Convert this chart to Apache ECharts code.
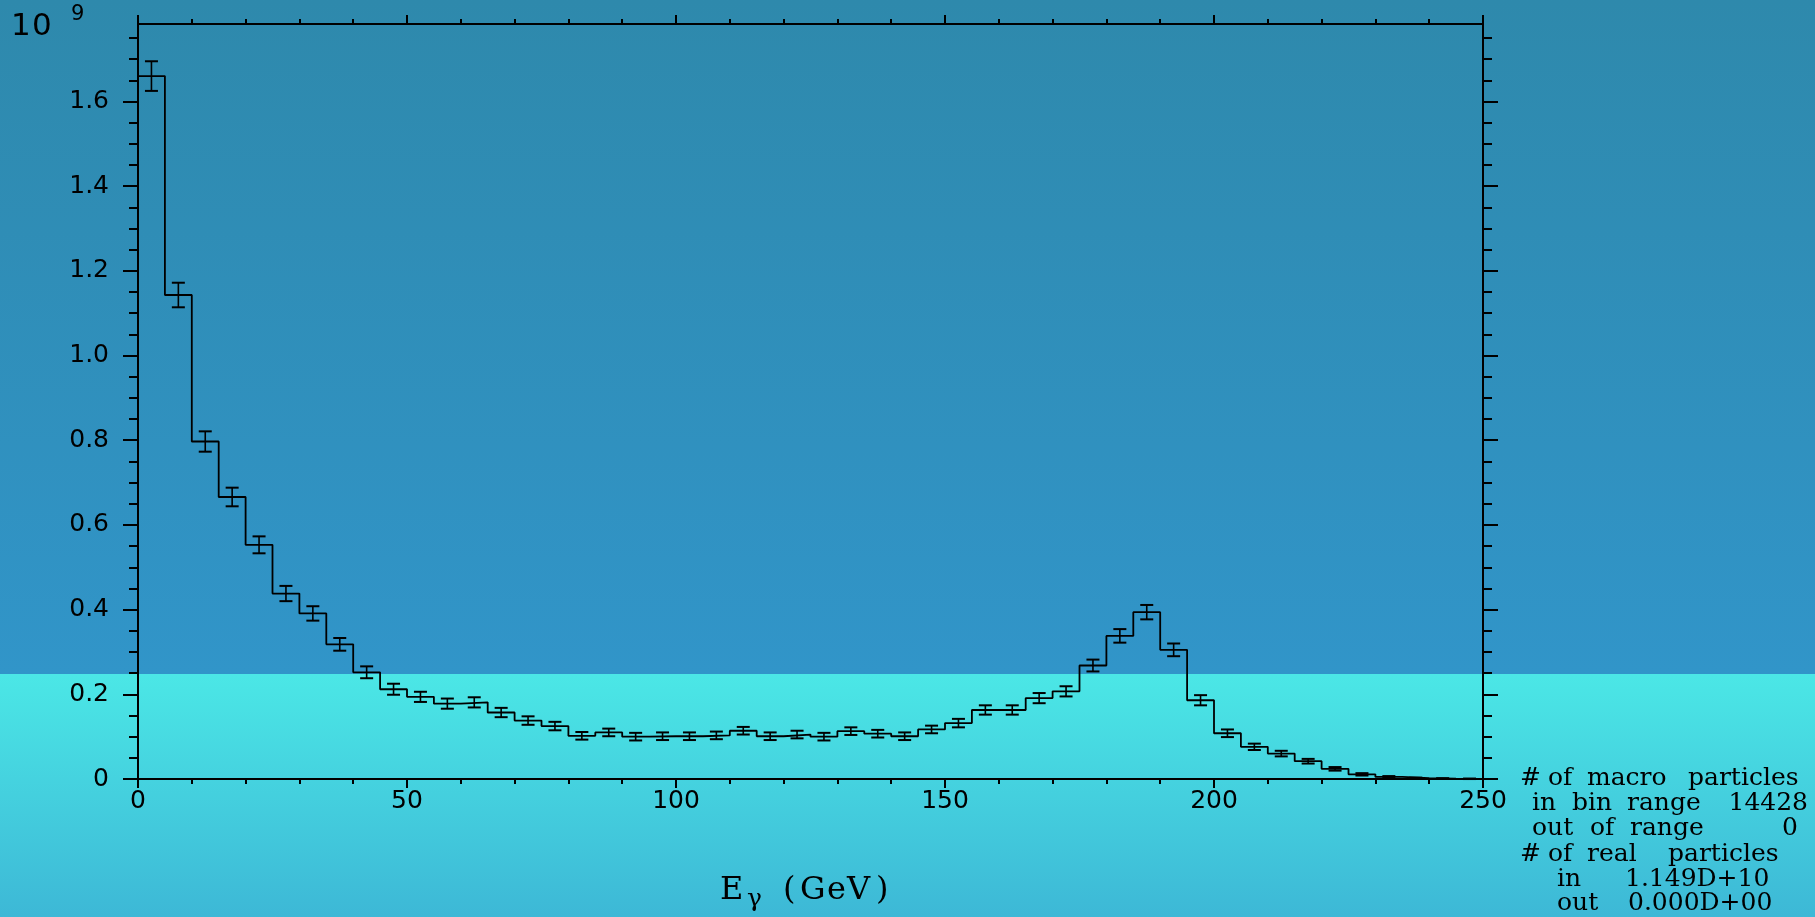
<!DOCTYPE html>
<html>
<head>
<meta charset="utf-8">
<script src="https://cdn.jsdelivr.net/npm/echarts@6/dist/echarts.min.js"></script>
<style>
  html, body { margin: 0; padding: 0; }
  #chart { width: 1815px; height: 917px; }
</style>
</head>
<body>
<div id="chart"></div>
<script>
// ---- data (values in units of 10^9) ----
const binLow = [0,5,10,15,20,25,30,35,40,45,50,55,60,65,70,75,80,85,90,95,
  100,105,110,115,120,125,130,135,140,145,150,155,160,165,170,175,180,185,190,195,
  200,205,210,215,220,225,230,235,240,245];
const binWidth = 5;
const counts = [1.660,1.143,0.797,0.666,0.553,0.438,0.391,0.318,0.252,0.212,
  0.194,0.178,0.181,0.157,0.138,0.125,0.102,0.110,0.100,0.101,
  0.101,0.103,0.114,0.101,0.105,0.100,0.113,0.107,0.101,0.117,
  0.132,0.163,0.163,0.191,0.207,0.268,0.338,0.394,0.305,0.186,
  0.108,0.076,0.060,0.042,0.024,0.011,0.005,0.002,0.001,0.0005];
const errors = [0.035,0.029,0.024,0.022,0.020,0.018,0.017,0.015,0.014,0.013,
  0.012,0.012,0.012,0.011,0.010,0.010,0.009,0.009,0.009,0.009,
  0.009,0.009,0.009,0.009,0.009,0.009,0.009,0.009,0.009,0.009,
  0.010,0.011,0.011,0.012,0.012,0.014,0.016,0.017,0.015,0.012,
  0.009,0.0075,0.0066,0.0055,0.0042,0.0028,0.0019,0.0012,0.0009,0.0006];
const xMajorInterval = 50;
const yMajorTicks = [0,0.2,0.4,0.6,0.8,1.0,1.2,1.4,1.6];
const yMinorTicks = [0.05,0.1,0.15,0.25,0.3,0.35,0.45,0.5,0.55,0.65,0.7,0.75,
  0.85,0.9,0.95,1.05,1.1,1.15,1.25,1.3,1.35,1.45,1.5,1.55,1.65,1.7,1.75];
const yMax = 1.783;
const xMax = 250;

const noteTokens = [
  ['#',1520,778],['of',1548,778],['macro',1587,778],['particles',1688,778],
  ['in',1532,803.5],['bin',1572,803.5],['range',1627,803.5],['14428',1808,803.5,'right'],
  ['out',1532,828],['of',1590,828],['range',1630,828],['0',1798,828,'right'],
  ['#',1520,854.5],['of',1548,854.5],['real',1587,854.5],['particles',1668,854.5],
  ['in',1557,879.5],['1.149D+10',1625,879.5],
  ['out',1557,903.5],['0.000D+00',1628,903.5]
];
const titleTokens = [
  ['E',720,891,32],['γ',747,899,25],['(',783,891,32],['G',800,891,32],
  ['e',827,891,32],['V',847,891,32],[')',876,891,32]
];

// ---- build ----
const stepData = binLow.map((x, i) => [x, counts[i]]);
stepData.push([binLow[binLow.length - 1] + binWidth, counts[counts.length - 1]]);
const errData = binLow.map((x, i) => [x + binWidth / 2, counts[i], errors[i]]);

const chart = echarts.init(document.getElementById('chart'), null, { renderer: 'canvas' });

const black = '#000';
const tickFont = { color: black, fontFamily: 'DejaVu Sans', fontSize: 25 };

function xAxisCfg(pos, showLabel) {
  return {
    type: 'value', position: pos, min: 0, max: xMax, interval: xMajorInterval,
    axisLine: { show: true, onZero: false, lineStyle: { color: black, width: 2 } },
    axisTick: { show: true, inside: false, length: 9, lineStyle: { color: black, width: 2 } },
    minorTick: { show: true, splitNumber: 5, length: 5, lineStyle: { color: black, width: 2 } },
    axisLabel: Object.assign({ show: showLabel, margin: 22, verticalAlign: 'middle' }, tickFont),
    splitLine: { show: false }, minorSplitLine: { show: false }
  };
}
function yAxisCfg(pos, ticks, len, showLabel, showLine) {
  return {
    type: 'value', position: pos, offset: 0, min: 0, max: yMax,
    axisLine: { show: showLine, onZero: false, lineStyle: { color: black, width: 2 } },
    axisTick: { show: true, inside: false, length: len, customValues: ticks, lineStyle: { color: black, width: 2 } },
    axisLabel: Object.assign({
      show: showLabel, margin: 29, customValues: ticks,
      formatter: v => (v === 0 ? '0' : v.toFixed(1))
    }, tickFont),
    splitLine: { show: false }
  };
}

function txt(text, x, y, size, family, align) {
  return { type: 'text', x: x, y: y, silent: true,
    style: { text: text, fill: black, fontSize: size, fontFamily: family,
      align: align || 'left', verticalAlign: 'middle' } };
}

const graphics = [
  { type: 'rect', z: -10, silent: true, shape: { x: 0, y: 0, width: 1815, height: 674 },
    style: { fill: new echarts.graphic.LinearGradient(0, 0, 0, 1, [
      { offset: 0, color: '#2e89ac' }, { offset: 1, color: '#3195c9' }]) } },
  { type: 'rect', z: -10, silent: true, shape: { x: 0, y: 674, width: 1815, height: 243 },
    style: { fill: new echarts.graphic.LinearGradient(0, 0, 0, 1, [
      { offset: 0, color: '#4be7e6' }, { offset: 1, color: '#3db8d6' }]) } },
  txt('1', 11, 27, 31, 'DejaVu Sans'),
  txt('0', 32, 27, 31, 'DejaVu Sans'),
  txt('9', 71, 15, 21, 'DejaVu Sans')
];
titleTokens.forEach(t => graphics.push(txt(t[0], t[1], t[2], t[3], 'DejaVu Serif')));
noteTokens.forEach(t => graphics.push(txt(t[0], t[1], t[2], 25, 'DejaVu Serif', t[3])));

chart.setOption({
  animation: false,
  backgroundColor: 'transparent',
  grid: { left: 138, right: 332, top: 24, bottom: 138, containLabel: false },
  xAxis: [xAxisCfg('bottom', true), xAxisCfg('top', false)],
  yAxis: [
    yAxisCfg('left', yMajorTicks, 15, true, true),
    yAxisCfg('left', yMinorTicks, 9, false, false),
    yAxisCfg('right', yMajorTicks, 15, false, true),
    yAxisCfg('right', yMinorTicks, 9, false, false)
  ],
  graphic: graphics,
  series: [
    {
      type: 'line', step: 'end', xAxisIndex: 0, yAxisIndex: 0,
      data: stepData, symbol: 'none', showSymbol: false,
      lineStyle: { color: black, width: 1.8 }, z: 3
    },
    {
      type: 'custom', xAxisIndex: 0, yAxisIndex: 0, data: errData, z: 4,
      renderItem: function (params, api) {
        const x = api.value(0), y = api.value(1), e = api.value(2);
        const top = api.coord([x, y + e]);
        const bot = api.coord([x, y - e]);
        const hw = 6.5;
        const st = { stroke: black, lineWidth: 2 };
        return { type: 'group', children: [
          { type: 'line', shape: { x1: top[0], y1: top[1], x2: bot[0], y2: bot[1] }, style: { stroke: black, lineWidth: 1.6 } },
          { type: 'line', shape: { x1: top[0] - hw, y1: top[1], x2: top[0] + hw, y2: top[1] }, style: st },
          { type: 'line', shape: { x1: bot[0] - hw, y1: bot[1], x2: bot[0] + hw, y2: bot[1] }, style: st }
        ] };
      }
    }
  ]
});
</script>
</body>
</html>
